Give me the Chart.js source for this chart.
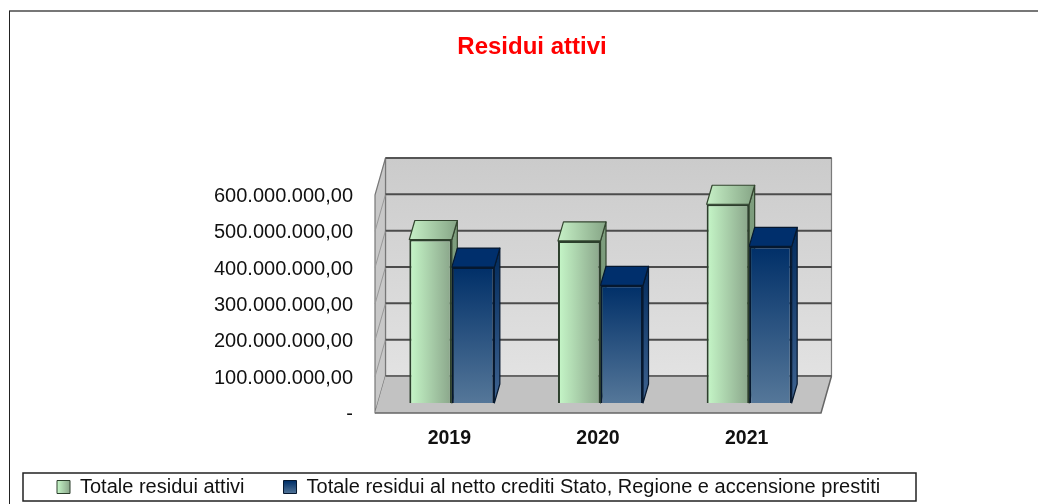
<!DOCTYPE html>
<html><head><meta charset="utf-8">
<style>html,body{margin:0;padding:0;background:#fff}canvas{display:block}</style>
<script src="https://cdn.jsdelivr.net/npm/chart.js@4"></script>
</head><body><canvas id="c" width="1038" height="504"></canvas>
<script>
const categories = ['2019','2020','2021'];
const totaleResidui = [450000000, 446000000, 547000000];
const totaleNetto = [374000000, 324000000, 431000000];
const tickValues = [0,100000000,200000000,300000000,400000000,500000000,600000000];
const tickLabels = ['-','100.000.000,00','200.000.000,00','300.000.000,00','400.000.000,00','500.000.000,00','600.000.000,00'];
const seriesNames = ['Totale residui attivi','Totale residui al netto crediti Stato, Regione e accensione prestiti'];
const FONT = '"Liberation Sans", Arial, sans-serif';
const WALL = {dx:10.5, dy:-37}, BAR = {dx:2.5, dy:-10}, DEPTH = {dx:5.5, dy:-19};

function poly(ctx, pts, fill, stroke, lw){
  ctx.lineJoin='round';
  ctx.beginPath(); pts.forEach((p,i)=> i?ctx.lineTo(p[0],p[1]):ctx.moveTo(p[0],p[1])); ctx.closePath();
  if(fill){ctx.fillStyle=fill;ctx.fill();}
  if(stroke){ctx.strokeStyle=stroke;ctx.lineWidth=lw||1;ctx.stroke();}
}
function lin(ctx,x0,y0,x1,y1,a,b){const g=ctx.createLinearGradient(x0,y0,x1,y1);g.addColorStop(0,a);g.addColorStop(1,b);return g;}

const scene = {
  id:'scene',
  beforeLayout(chart){
    const l = chart.legend;
    if(!l._fitWrapped){ const f=l.fit; l.fit=function(){ f.call(this); this.height=31; }; l._fitWrapped=true; }
  },
  afterLayout(chart){
    chart.titleBlock.left = 26; chart.titleBlock.right = 1038;
    const l = chart.legend; const p = l.options.labels.padding;
    l.left = 57 - p; l.right = 1038; l.top = 487 - p - 10; l.bottom = 504;
  },
  beforeDraw(chart){
    const c = chart.ctx; c.save();
    c.strokeStyle='#777'; c.lineWidth=2; c.beginPath(); c.moveTo(9,11); c.lineTo(1038,11); c.stroke();
    c.strokeStyle='#222'; c.lineWidth=1; c.beginPath(); c.moveTo(9.5,11); c.lineTo(9.5,504); c.stroke();
    c.fillStyle='#fff'; c.strokeStyle='#222'; c.lineWidth=1.5; c.fillRect(23,473,893,28); c.strokeRect(23,473,893,28);
    c.restore();
  },
  beforeDatasetsDraw(chart){
    const c = chart.ctx, a = chart.chartArea, y = chart.scales.y;
    const y0 = y.getPixelForValue(0), yT = y.getPixelForValue(tickValues[tickValues.length-1]);
    const L=a.left, R=a.right, dx=WALL.dx, dy=WALL.dy;
    c.save();
    // back wall, left wall, floor
    poly(c,[[L+dx,yT+dy],[R+dx,yT+dy],[R+dx,y0+dy],[L+dx,y0+dy]],lin(c,0,yT+dy,0,y0+dy,'#cbcbcb','#e2e2e2'),'#7a7a7a',1.2);
    poly(c,[[L,y0],[L+dx,y0+dy],[L+dx,yT+dy],[L,yT]],'#c8c8c8','#777',1.2);
    tickValues.slice(1,-1).forEach(v=>{
      const p=y.getPixelForValue(v);
      c.strokeStyle='#999';c.lineWidth=1;c.beginPath();c.moveTo(L,p);c.lineTo(L+dx,p+dy);c.stroke();
    });
    tickValues.slice(1).forEach(v=>{
      const p=y.getPixelForValue(v)+dy;
      c.strokeStyle=v===tickValues[tickValues.length-1]?'#555':'#4c4c4c';c.lineWidth=2;c.beginPath();c.moveTo(L+dx,p);c.lineTo(R+dx,p);c.stroke();
    });
    poly(c,[[L,y0],[L+dx,y0+dy],[R+dx,y0+dy],[R,y0]],'#c2c2c2',null);
    c.strokeStyle='#4c4c4c';c.lineWidth=1.5;c.beginPath();c.moveTo(L+dx,y0+dy);c.lineTo(R+dx,y0+dy);c.stroke();
    c.strokeStyle='#666';c.lineWidth=1.5;c.beginPath();c.moveTo(L,y0);c.lineTo(R,y0);c.lineTo(R+dx,y0+dy);c.stroke();
    c.restore();
    // bars: shifted on to the floor, with their side and top faces
    c.save(); c.translate(BAR.dx,BAR.dy);
    const d=DEPTH;
    [0,1].forEach(i=>{
      chart.getDatasetMeta(i).data.forEach(el=>{
        const l=el.x-el.width/2, r=el.x+el.width/2, t=el.y, b=el.base;
        const green=i===0;
        const edge=green?'#33452f':'#06182f';
        poly(c,[[r,t],[r+d.dx,t+d.dy],[r+d.dx,b+d.dy],[r,b]],
          green?lin(c,0,t+d.dy,0,b,'#7f9f7f','#6f8f6f'):lin(c,0,t+d.dy,0,b,'#012a5c','#3f6390'),edge,1.2);
        poly(c,[[l,t],[l+d.dx,t+d.dy],[r+d.dx,t+d.dy],[r,t]],
          green?lin(c,l,0,r+d.dx,0,'#c6f0c6','#86a586'):'#002f6c',edge,1.2);
        const o=Object.assign({},el.options);
        o.backgroundColor=green?lin(c,l,0,r,0,'#c6f7c8','#8aa58a'):lin(c,0,t,0,b,'#002f68','#557799');
        el.options=o;
      });
    });
  },
  afterDatasetsDraw(chart){ chart.ctx.restore(); }
};

new Chart(document.getElementById('c'),{
  type:'bar',
  data:{labels:categories,datasets:[
    {label:seriesNames[0],data:totaleResidui,backgroundColor:'#a8d8a8',borderColor:'#2c3f2c',borderWidth:2,categoryPercentage:0.572,barPercentage:1},
    {label:seriesNames[1],data:totaleNetto,backgroundColor:'#1f4a7d',borderColor:'#06182f',borderWidth:2,categoryPercentage:0.572,barPercentage:1}
  ]},
  options:{
    responsive:false,animation:false,
    layout:{padding:0},
    plugins:{
      tooltip:{enabled:false},
      title:{display:true,text:'Residui attivi',color:'#ff0000',font:{family:FONT,size:24,weight:'bold',lineHeight:1.2},padding:{top:32.6,bottom:133.6}},
      legend:{display:true,position:'bottom',align:'start',onClick:null,
        labels:{boxWidth:13,boxHeight:13,padding:39,color:'#111',font:{family:FONT,size:20},
          generateLabels(chart){
            const c=chart.ctx;
            return [
              {text:seriesNames[0],datasetIndex:0,fillStyle:lin(c,57,0,70,0,'#c6f7c8','#8aa58a'),strokeStyle:'#2c3f2c',lineWidth:1,fontColor:'#111'},
              {text:seriesNames[1],datasetIndex:1,fillStyle:lin(c,0,481,0,494,'#002f68','#557799'),strokeStyle:'#06182f',lineWidth:1,fontColor:'#111'}
            ];
          }}}
    },
    scales:{
      x:{grid:{display:false},border:{display:false},
        afterFit(s){s.height=60;},
        ticks:{color:'#111',font:{family:FONT,size:19.5,weight:'bold'},padding:6,maxRotation:0}},
      y:{min:0,max:600000000,grid:{display:false},border:{display:false},
        afterFit(s){s.width=375;},
        afterBuildTicks(s){s.ticks=tickValues.map(v=>({value:v}));},
        ticks:{color:'#111',font:{family:FONT,size:20},padding:14,autoSkip:false,labelOffset:1.5,
          callback(v){return tickLabels[tickValues.indexOf(v)];}}},
      // empty right-hand axis: reserves the blank margin beside the plot
      yRight:{position:'right',min:0,max:600000000,grid:{display:false},border:{display:false},
        afterFit(s){s.width=217;},ticks:{display:false}}
    }
  },
  plugins:[scene]
});
</script></body></html>
